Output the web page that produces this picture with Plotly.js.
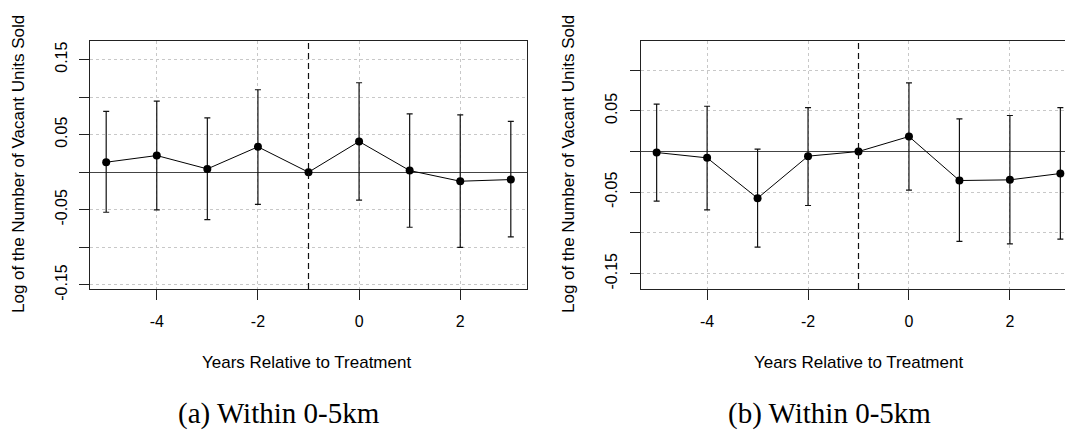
<!DOCTYPE html>
<html>
<head>
<meta charset="utf-8">
<script src="https://cdn.plot.ly/plotly-3.0.1.min.js"></script>
<style>
  html, body { margin: 0; padding: 0; background: #ffffff; overflow: hidden; }
  #chart { width: 1090px; height: 432px; }
</style>
</head>
<body>
<div id="chart"></div>
<script>
// ---- data ----
var years = [-5, -4, -3, -2, -1, 0, 1, 2, 3];

// Panel (a)
var estA = [0.0133, 0.0222, 0.0044, 0.0338, 0, 0.0409, 0.0022, -0.0120, -0.0098];
var hiA  = [0.0809, 0.0947, 0.0724, 0.1098, 0, 0.1191, 0.0778, 0.0764, 0.0676];
var loA  = [-0.0533, -0.0502, -0.0631, -0.0427, 0, -0.0373, -0.0733, -0.1000, -0.0862];

// Panel (b)
var estB = [-0.0012, -0.0078, -0.0573, -0.0057, 0, 0.0184, -0.0356, -0.0348, -0.0270];
var hiB  = [0.0581, 0.0556, 0.0029, 0.0540, 0, 0.0843, 0.0401, 0.0442, 0.0540];
var loB  = [-0.0609, -0.0716, -0.1174, -0.0663, 0, -0.0474, -0.1104, -0.1133, -0.1076];

var xTickVals = [-4, -2, 0, 2];
var xTickText = ['-4', '-2', '0', '2'];
var yTickVals = [-0.15, -0.10, -0.05, 0, 0.05, 0.10, 0.15];
var yTickText = ['-0.15', '', '-0.05', '', '0.05', '', '0.15'];

var yTitle = 'Log of the Number of Vacant Units Sold';
var xTitle = 'Years Relative to Treatment';
var captionA = '(a) Within 0-5km';
var captionB = '(b) Within 0-5km';

// ---- layout helpers (pixel geometry) ----
var W = 1090, H = 432;
function px(x) { return x / W; }
function py(y) { return 1 - y / H; }

function diff(a, b) { return a.map(function (v, i) { return v - b[i]; }); }

function makeTrace(est, hi, lo, xa, ya) {
  return {
    type: 'scatter', mode: 'lines+markers',
    x: years, y: est, xaxis: xa, yaxis: ya,
    line: { color: '#000000', width: 1 },
    marker: { color: '#000000', size: 8 },
    error_y: {
      type: 'data', symmetric: false,
      array: diff(hi, est), arrayminus: diff(est, lo),
      color: '#111111', thickness: 1.2, width: 3
    },
    hoverinfo: 'skip', showlegend: false
  };
}

var font = { family: 'Liberation Sans, Arial, sans-serif', size: 16, color: '#000000' };

function xAxis(dom, anchor) {
  return {
    domain: dom, anchor: anchor, range: [-5.32, 3.32],
    tickvals: xTickVals, ticktext: xTickText,
    ticks: 'outside', ticklen: 10, tickwidth: 1, tickcolor: '#222222',
    ticklabelstandoff: 8,
    showline: true, mirror: true, linecolor: '#222222', linewidth: 1,
    showgrid: true, gridcolor: '#c8c8c8', griddash: 'dot', gridwidth: 1,
    zeroline: false, tickfont: font, automargin: false, fixedrange: true
  };
}
function yAxis(dom, anchor, range) {
  return {
    domain: dom, anchor: anchor, range: range,
    tickvals: yTickVals, ticktext: yTickText, tickangle: -90,
    ticks: 'outside', ticklen: 10, tickwidth: 1, tickcolor: '#222222',
    ticklabelstandoff: 6,
    showline: true, mirror: true, linecolor: '#222222', linewidth: 1,
    showgrid: true, gridcolor: '#c8c8c8', griddash: 'dot', gridwidth: 1,
    zeroline: true, zerolinecolor: '#444444', zerolinewidth: 1.2,
    tickfont: font, automargin: false, fixedrange: true
  };
}

var yDom = [py(289), py(41)];

var data = [
  makeTrace(estA, hiA, loA, 'x', 'y'),
  makeTrace(estB, hiB, loB, 'x2', 'y2')
];

var titleFont = { family: 'Liberation Sans, Arial, sans-serif', size: 17, color: '#000000' };
var capFont = { family: 'Liberation Serif, Times New Roman, serif', size: 29, color: '#000000' };

var layout = {
  width: W, height: H,
  margin: { l: 0, r: 0, t: 0, b: 0 },
  paper_bgcolor: '#ffffff', plot_bgcolor: '#ffffff',
  showlegend: false,
  xaxis: xAxis([px(90), px(527)], 'y'),
  yaxis: yAxis(yDom, 'x', [-0.1555, 0.1747]),
  xaxis2: xAxis([px(640.5), px(1076.5)], 'y2'),
  yaxis2: yAxis(yDom, 'x2', [-0.1688, 0.1357]),
  shapes: [
    { type: 'line', xref: 'x', yref: 'y domain', x0: -1, x1: -1, y0: 0, y1: 1,
      line: { color: '#111111', width: 1.2, dash: '6px,4px' } },
    { type: 'line', xref: 'x2', yref: 'y2 domain', x0: -1, x1: -1, y0: 0, y1: 1,
      line: { color: '#111111', width: 1.2, dash: '6px,4px' } }
  ],
  annotations: [
    { text: yTitle, xref: 'paper', yref: 'paper', x: px(18), y: py(164),
      xanchor: 'center', yanchor: 'middle', textangle: -90, showarrow: false, font: titleFont },
    { text: yTitle, xref: 'paper', yref: 'paper', x: px(568), y: py(164),
      xanchor: 'center', yanchor: 'middle', textangle: -90, showarrow: false, font: titleFont },
    { text: xTitle, xref: 'paper', yref: 'paper', x: px(306), y: py(362),
      xanchor: 'center', yanchor: 'middle', showarrow: false, font: titleFont },
    { text: xTitle, xref: 'paper', yref: 'paper', x: px(858.5), y: py(362),
      xanchor: 'center', yanchor: 'middle', showarrow: false, font: titleFont },
    { text: captionA, xref: 'paper', yref: 'paper', x: px(279.5), y: py(413),
      xanchor: 'center', yanchor: 'middle', showarrow: false, font: capFont },
    { text: captionB, xref: 'paper', yref: 'paper', x: px(829), y: py(413),
      xanchor: 'center', yanchor: 'middle', showarrow: false, font: capFont }
  ]
};

Plotly.newPlot('chart', data, layout, { staticPlot: true, displayModeBar: false });
</script>
</body>
</html>
